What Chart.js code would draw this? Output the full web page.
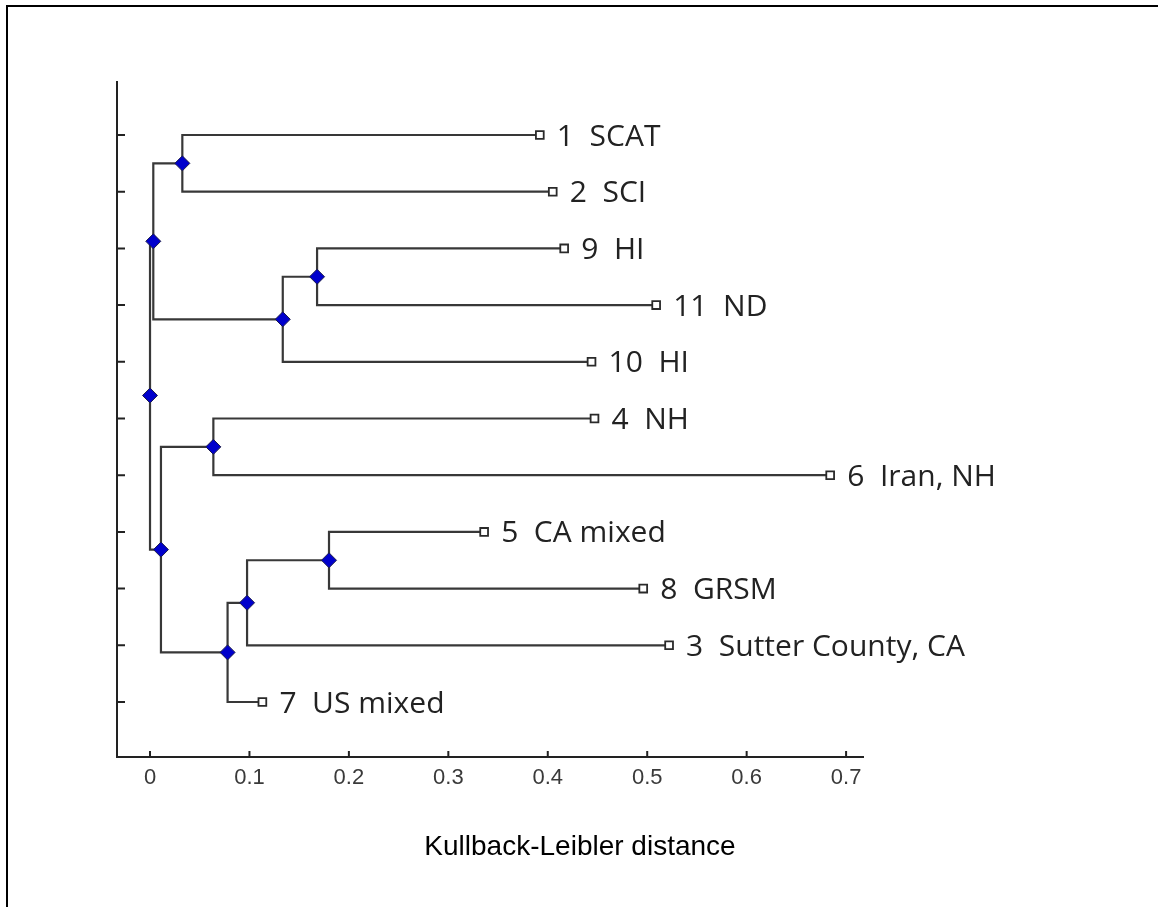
<!DOCTYPE html>
<html lang="en">
<head>
  <meta charset="UTF-8">
  <title>Kullback-Leibler dendrogram</title>
  <style>
    html, body { margin: 0; padding: 0; background: #fff; overflow: hidden; }
    .frame { position: absolute; left: 6px; top: 5px; right: 0; bottom: 0; border-top: 2px solid #000; border-left: 2px solid #000; }
    .wrap { position: absolute; left: 0; top: 0; width: 1158px; height: 907px; }
  </style>
</head>
<body>
  <div class="frame"></div>
  <div class="wrap"><canvas id="myChart" width="1158" height="907"></canvas></div>
  <script src="https://cdn.jsdelivr.net/npm/chart.js"></script>
  <script>
    // leaves, top to bottom
    const leafIds = ['1', '2', '9', '11', '10', '4', '6', '5', '8', '3', '7'];
    const leafNames = ['SCAT', 'SCI', 'HI', 'ND', 'HI', 'NH', 'Iran, NH', 'CA mixed', 'GRSM', 'Sutter County, CA', 'US mixed'];
    const leafDist = [0.392, 0.405, 0.4165, 0.509, 0.444, 0.447, 0.684, 0.336, 0.496, 0.522, 0.113];
    const leafRow = [1, 2, 3, 4, 5, 6, 7, 8, 9, 10, 11];

    // internal nodes (children listed before parents)
    const nodeIds = ['A', 'B', 'C', 'D', 'E', 'F', 'G', 'H', 'I', 'R'];
    const nodeLeft = ['1', '9', 'B', 'A', '4', '5', 'F', 'G', 'E', 'D'];
    const nodeRight = ['2', '11', '10', 'C', '6', '8', '3', '7', 'H', 'I'];
    const nodeDist = [0.0325, 0.168, 0.1335, 0.0033, 0.0637, 0.180, 0.0976, 0.078, 0.011, 0.0];

    const xTicks = [0, 0.1, 0.2, 0.3, 0.4, 0.5, 0.6, 0.7];
    const xTickLabels = ['0', '0.1', '0.2', '0.3', '0.4', '0.5', '0.6', '0.7'];
    const axisTitle = 'Kullback-Leibler distance';

    // node y = middle of its two children
    const pos = {};
    leafIds.forEach((id, i) => { pos[id] = { x: leafDist[i], y: leafRow[i] }; });
    nodeIds.forEach((id, i) => {
      const a = pos[nodeLeft[i]], b = pos[nodeRight[i]];
      pos[id] = { x: nodeDist[i], y: (a.y + b.y) / 2 };
    });

    const branchSets = nodeIds.map((id, i) => {
      const a = pos[nodeLeft[i]], b = pos[nodeRight[i]], n = pos[id];
      return {
        data: [{ x: a.x, y: a.y }, { x: n.x, y: a.y }, { x: n.x, y: b.y }, { x: b.x, y: b.y }],
        showLine: true,
        borderColor: '#383838',
        borderWidth: 2.2,
        pointRadius: 0,
        order: 2
      };
    });

    const leafSet = {
      data: leafIds.map(id => pos[id]),
      pointStyle: 'rect',
      pointRadius: 5.5,
      pointBackgroundColor: '#fff',
      pointBorderColor: '#2a2a2a',
      pointBorderWidth: 1.8,
      order: 0
    };

    const nodeSet = {
      data: nodeIds.map(id => pos[id]),
      pointStyle: 'rectRot',
      pointRadius: 7.5,
      pointBackgroundColor: '#0000cc',
      pointBorderColor: '#1c1c4a',
      pointBorderWidth: 1,
      order: 0
    };

    const dendroExtras = {
      id: 'dendroExtras',
      afterDraw(chart) {
        const { ctx, chartArea } = chart;
        const x = chart.scales.x, y = chart.scales.y;
        ctx.save();
        // ticks pointing inward
        ctx.strokeStyle = '#222';
        ctx.lineWidth = 2;
        ctx.beginPath();
        y.ticks.forEach(t => {
          const py = y.getPixelForValue(t.value);
          ctx.moveTo(chartArea.left, py);
          ctx.lineTo(chartArea.left + 8, py);
        });
        x.ticks.forEach(t => {
          const px = x.getPixelForValue(t.value);
          ctx.moveTo(px, chartArea.bottom);
          ctx.lineTo(px, chartArea.bottom - 6);
        });
        ctx.stroke();

        // leaf labels
        ctx.fillStyle = '#222';
        ctx.font = '30px "Open Sans"';
        ctx.textBaseline = 'middle';
        ctx.textAlign = 'left';
        leafIds.forEach((id, i) => {
          ctx.fillText(id + '  ' + leafNames[i], x.getPixelForValue(leafDist[i]) + 17, y.getPixelForValue(leafRow[i]) + 2);
        });

        // axis title
        ctx.fillStyle = '#000';
        ctx.font = '28px "Liberation Sans"';
        ctx.textAlign = 'center';
        ctx.fillText(axisTitle, (chartArea.left + chartArea.right) / 2 + 90, 847);
        ctx.restore();
      }
    };

    new Chart(document.getElementById('myChart'), {
      type: 'scatter',
      data: { datasets: [leafSet, nodeSet].concat(branchSets) },
      options: {
        responsive: false,
        animation: false,
        devicePixelRatio: 1,
        layout: { padding: { left: 117, top: 82, right: 295, bottom: 0 } },
        plugins: { legend: { display: false }, tooltip: { enabled: false } },
        scales: {
          x: {
            type: 'linear',
            min: -0.0332,
            max: 0.717,
            afterBuildTicks: s => { s.ticks = xTicks.map(v => ({ value: v })); },
            afterFit: s => { s.height = 150; },
            ticks: {
              callback: (v, i) => xTickLabels[i],
              font: { family: '"Liberation Sans", Arial', size: 22 },
              color: '#3a3a3a',
              padding: 8,
              autoSkip: false,
              maxRotation: 0
            },
            grid: { display: false, drawTicks: false },
            border: { display: true, color: '#222', width: 2 }
          },
          y: {
            type: 'linear',
            reverse: true,
            min: 0.065,
            max: 11.97,
            afterBuildTicks: s => { s.ticks = leafRow.map(v => ({ value: v })); },
            afterFit: s => { s.width = 0; },
            ticks: { display: false },
            grid: { display: false, drawTicks: false },
            border: { display: true, color: '#222', width: 2 }
          }
        }
      },
      plugins: [dendroExtras]
    });
  </script>
</body>
</html>
